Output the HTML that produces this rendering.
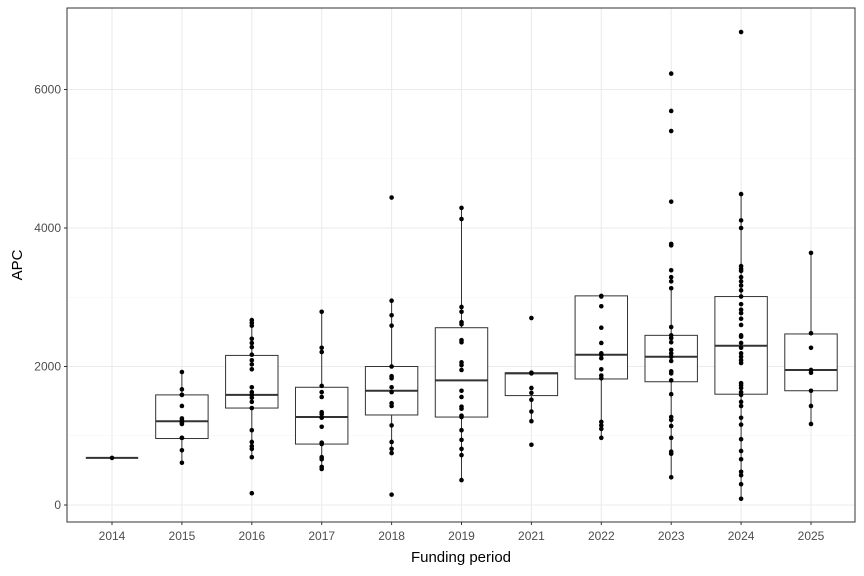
<!DOCTYPE html>
<html><head><meta charset="utf-8"><style>
body{margin:0;background:#fff;}
svg{display:block;font-family:"Liberation Sans",sans-serif;}
</style></head><body>
<svg id="chart" width="864" height="576" viewBox="0 0 864 576" xmlns="http://www.w3.org/2000/svg">
<rect width="864" height="576" fill="#fff"/>
<g id="grid"></g><g id="boxes"></g><g id="pts"></g><g id="axes"></g>
</svg>
<script>
const categories=["2014","2015","2016","2017","2018","2019","2021","2022","2023","2024","2025"];
const q1=[680,960,1400,880,1300,1270,1580,1820,1780,1600,1650];
const med=[680,1210,1590,1270,1650,1800,1900,2170,2140,2300,1950];
const q3=[680,1590,2160,1700,2000,2560,1910,3020,2450,3010,2470];
const whiskerLo=[680,610,690,520,750,350,1210,970,400,90,1170];
const whiskerHi=[680,1920,2670,2790,2950,4290,1910,3020,3130,4490,3640];
const points=[
[680],
[1920,1670,1590,1590,1430,1250,1220,1190,1170,970,970,790,610],
[2670,2630,2590,2400,2340,2280,2170,2090,2030,1960,1700,1630,1590,1550,1490,1400,1080,910,850,810,690,170],
[2790,2270,2210,1720,1630,1560,1340,1310,1260,1130,900,880,690,660,550,520],
[4440,2950,2740,2590,2000,1860,1830,1700,1630,1470,1430,1150,910,810,750,150],
[4290,4130,2860,2790,2640,2610,2380,2350,2060,2020,1950,1650,1560,1420,1390,1290,1270,1080,940,810,720,360],
[2700,1910,1900,1690,1620,1520,1350,1210,870],
[3020,3010,2870,2560,2340,2190,2170,2120,1960,1870,1830,1200,1150,1100,970],
[6230,5690,5400,4380,3770,3750,3390,3290,3230,3130,2570,2450,2410,2350,2240,2190,2140,2080,1930,1900,1800,1600,1270,1230,1140,970,770,740,400],
[6830,4490,4110,4000,3450,3410,3380,3290,3230,3170,3100,3010,2900,2820,2770,2690,2600,2450,2430,2340,2270,2190,2140,2090,2050,1760,1730,1690,1630,1590,1490,1430,1260,1160,950,780,660,480,430,300,90],
[3640,2480,2270,1950,1910,1650,1430,1170]
];
const yTicks=[0,2000,4000,6000];
const yMinor=[1000,3000,5000];
const NS="http://www.w3.org/2000/svg";
const L=67,R=855,T=8,B=522;
const y=v=>505-v*138.5/2000;
const step=69.9;
const x=i=>112+i*step;
const bw=step*0.75;
function mk(p,tag,a){const e=document.createElementNS(NS,tag);for(const k in a)e.setAttribute(k,a[k]);p.appendChild(e);return e;}
const grid=document.getElementById('grid'),boxes=document.getElementById('boxes'),pts=document.getElementById('pts'),axes=document.getElementById('axes');
yMinor.forEach(v=>{const e=mk(grid,'line',{x1:L,x2:R,y1:y(v),y2:y(v),stroke:'#f3f3f3','stroke-width':0.6});

});
yTicks.forEach(v=>{const e=mk(grid,'line',{x1:L,x2:R,y1:y(v),y2:y(v),stroke:'#ebebeb','stroke-width':1.1});


const t=mk(axes,'text',{x:61,y:y(v)+4,'text-anchor':'end','font-size':12,fill:'#4d4d4d'});t.textContent=v;


mk(axes,'line',{x1:64,x2:L,y1:y(v),y2:y(v),stroke:'#333','stroke-width':1});});
categories.forEach((c,i)=>{const e=mk(grid,'line',{x1:x(i),x2:x(i),y1:T,y2:B,stroke:'#ebebeb','stroke-width':1.1});


mk(axes,'line',{x1:x(i),x2:x(i),y1:B,y2:B+3,stroke:'#333','stroke-width':1});
const t=mk(axes,'text',{x:x(i),y:540,'text-anchor':'middle','font-size':12,fill:'#4d4d4d'});t.textContent=c;


const g=mk(boxes,'g',{});


if(whiskerHi[i]>q3[i])mk(g,'line',{x1:x(i),x2:x(i),y1:y(q3[i]),y2:y(whiskerHi[i]),stroke:'#333','stroke-width':1});
if(whiskerLo[i]<q1[i])mk(g,'line',{x1:x(i),x2:x(i),y1:y(q1[i]),y2:y(whiskerLo[i]),stroke:'#333','stroke-width':1});
mk(g,'rect',{x:x(i)-bw/2,y:y(q3[i]),width:bw,height:Math.max(0,y(q1[i])-y(q3[i])),fill:'#fff',stroke:'#333','stroke-width':1});
mk(g,'line',{x1:x(i)-bw/2,x2:x(i)+bw/2,y1:y(med[i]),y2:y(med[i]),stroke:'#333','stroke-width':2});
points[i].forEach(v=>{const p=mk(pts,'circle',{cx:x(i),cy:y(v),r:2.3,fill:'#000'});

});
});
const bd=mk(axes,'rect',{x:L,y:T,width:R-L,height:B-T,fill:'none',stroke:'#333','stroke-width':1});


const xt=mk(axes,'text',{x:461,y:562,'text-anchor':'middle','font-size':15,fill:'#000'});xt.textContent='Funding period';


const yt=mk(axes,'text',{x:0,y:0,'text-anchor':'middle','font-size':15,fill:'#000',transform:`translate(22,${(T+B)/2}) rotate(-90)`});yt.textContent='APC';


</script>
</body></html>
